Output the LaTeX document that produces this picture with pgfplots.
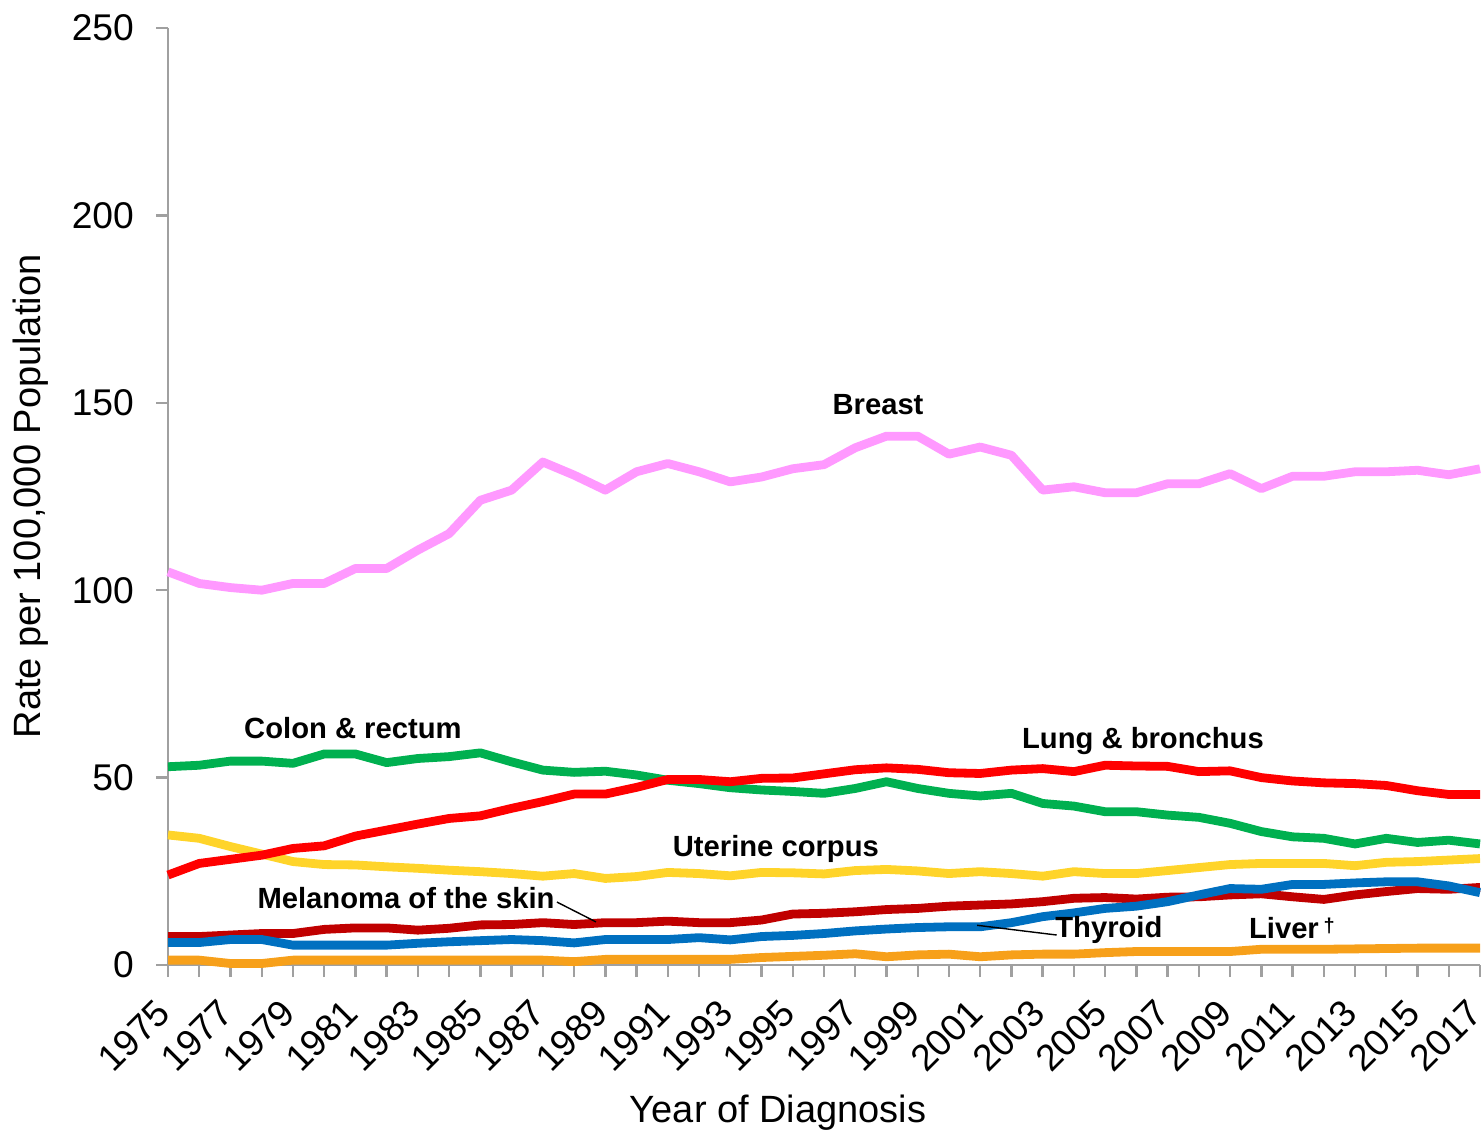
\documentclass[border=0pt]{standalone}
\usepackage{pgfplots}
\usepackage{pgfplotstable}
\pgfplotsset{compat=1.18}
\usepackage{fontspec}
\setmainfont{Liberation Sans}

\definecolor{cBreast}{HTML}{FF99FF}
\definecolor{cColon}{HTML}{00B050}
\definecolor{cLung}{HTML}{FF0000}
\definecolor{cUter}{HTML}{FFD42A}
\definecolor{cMel}{HTML}{C00000}
\definecolor{cThy}{HTML}{0070C0}
\definecolor{cLiver}{HTML}{F7A01A}
\definecolor{axgray}{HTML}{A0A0A0}

\pgfplotstableread{
year breast colon lung uterine melanoma thyroid liver
1975 104.9 52.9 24.0 34.7 7.6 6.0 1.3
1976 101.8 53.3 27.1 33.8 7.6 6.0 1.3
1977 100.7 54.4 28.2 31.6 8.0 6.8 0.4
1978 100.0 54.4 29.3 29.6 8.4 6.8 0.4
1979 101.8 53.8 31.1 27.6 8.4 5.3 1.3
1980 101.8 56.3 31.8 26.8 9.5 5.3 1.3
1981 105.8 56.3 34.4 26.7 9.9 5.3 1.3
1982 105.8 54.0 36.0 26.2 9.9 5.3 1.3
1983 110.7 55.1 37.6 25.8 9.3 5.8 1.3
1984 115.1 55.6 39.1 25.3 9.8 6.2 1.3
1985 124.0 56.6 39.8 24.9 10.7 6.5 1.3
1986 126.7 54.2 41.8 24.4 10.8 6.8 1.3
1987 134.2 52.0 43.6 23.7 11.3 6.5 1.3
1988 130.7 51.4 45.6 24.4 10.8 5.9 0.9
1989 126.7 51.7 45.6 23.1 11.3 6.8 1.5
1990 131.6 50.7 47.4 23.6 11.3 6.8 1.5
1991 133.8 49.3 49.5 24.7 11.7 6.8 1.5
1992 131.6 48.4 49.5 24.4 11.3 7.3 1.5
1993 128.9 47.3 48.9 23.8 11.3 6.7 1.5
1994 130.2 46.7 49.8 24.7 12.0 7.6 2.0
1995 132.4 46.3 49.9 24.6 13.6 7.9 2.3
1996 133.5 45.8 51.0 24.3 13.8 8.4 2.6
1997 138.0 47.1 52.1 25.2 14.2 9.1 3.0
1998 141.1 48.9 52.6 25.5 14.8 9.6 2.2
1999 141.1 47.1 52.2 25.1 15.1 10.0 2.7
2000 136.3 45.8 51.3 24.4 15.7 10.2 2.9
2001 138.2 45.1 51.1 24.9 16.0 10.2 2.2
2002 136.0 45.8 52.0 24.4 16.3 11.3 2.7
2003 126.7 43.1 52.4 23.7 16.9 12.9 2.9
2004 127.6 42.4 51.6 24.9 17.8 13.9 2.9
2005 126.0 40.9 53.3 24.4 18.0 15.1 3.3
2006 126.0 40.9 53.1 24.4 17.6 15.7 3.6
2007 128.4 40.0 53.0 25.2 18.1 16.9 3.6
2008 128.4 39.4 51.6 26.0 18.2 18.7 3.6
2009 131.1 37.8 51.8 26.8 18.7 20.4 3.6
2010 127.1 35.6 50.0 27.1 19.0 20.2 4.2
2011 130.4 34.2 49.1 27.1 18.2 21.5 4.2
2012 130.4 33.8 48.6 27.1 17.5 21.5 4.2
2013 131.6 32.3 48.4 26.5 18.7 21.9 4.3
2014 131.6 33.8 47.9 27.4 19.6 22.2 4.4
2015 132.0 32.7 46.5 27.6 20.4 22.2 4.5
2016 130.8 33.3 45.5 28.0 20.2 21.1 4.5
2017 132.4 32.3 45.5 28.4 20.7 19.3 4.5
}\datatable

\begin{document}
\begin{tikzpicture}
\begin{axis}[
  scale only axis,
  width=328pt, height=234.25pt,
  xmin=1975, xmax=2017,
  ymin=0, ymax=250,
  axis x line=bottom, axis y line=left,
  axis line style={-, draw=axgray, line width=0.6pt},
  tick style={draw=axgray, line width=0.6pt},
  tick align=outside,
  major tick length=3pt,
  minor tick length=3pt,
  xtick={1975,1977,...,2017},
  minor xtick={1976,1978,...,2016},
  ytick={0,50,...,250},
  xticklabel style={xshift=-0.3pt, yshift=-6.5pt, rotate=45, anchor=east, font=\fontsize{9.3}{11}\selectfont, inner sep=1pt},
  yticklabel style={font=\fontsize{9.3}{11}\selectfont, xshift=-2pt},
  /pgf/number format/assume math mode=true,
  xticklabel={\pgfmathprintnumber[1000 sep={}]{\tick}},
  scaled x ticks=false,
  xlabel={Year of Diagnosis},
  ylabel={Rate per 100,000 Population},
  xlabel style={at={(axis description cs:0.465,-0.158)}, anchor=center, font=\fontsize{9.5}{11}\selectfont},
  ylabel style={at={(axis description cs:-0.105,0.5)}, anchor=center, rotate=0, font=\fontsize{9.5}{11}\selectfont},
  clip=false,
  every axis plot/.append style={line width=2.2pt, line join=round, mark=none},
]
\addplot[cBreast] table[x=year,y=breast]{\datatable};
\addplot[cColon] table[x=year,y=colon]{\datatable};
\addplot[cUter] table[x=year,y=uterine]{\datatable};
\addplot[cLiver] table[x=year,y=liver]{\datatable};
\addplot[cMel] table[x=year,y=melanoma]{\datatable};
\addplot[cThy] table[x=year,y=thyroid]{\datatable};
\addplot[cLung] table[x=year,y=lung]{\datatable};

\draw[black, line width=0.35pt] (axis cs:1987.45,16.8) -- (axis cs:1988.7,11.5);
\draw[black, line width=0.35pt] (axis cs:2000.9,10.6) -- (axis cs:2003.45,8.0);

\begin{scope}[every node/.style={font=\fontsize{7.3}{9}\selectfont\bfseries, inner sep=0pt}]
\node at (axis cs:1997.73,149.6) {Breast};
\node at (axis cs:1980.92,63.2) {Colon \& rectum};
\node at (axis cs:2006.21,59.7) {Lung \& bronchus};
\node at (axis cs:1994.46,30.9) {Uterine corpus};
\node at (axis cs:1982.62,17.9) {Melanoma of the skin};
\node at (axis cs:2005.12,9.3) {Thyroid};
\node at (axis cs:2010.98,9.9) {Liver\,\raisebox{0.35ex}{\fontsize{5}{6}\selectfont †}};
\end{scope}
\end{axis}
\pgfresetboundingbox
\path (-42pt,-42.5pt) rectangle (329pt,241.25pt);
\end{tikzpicture}
\end{document}
